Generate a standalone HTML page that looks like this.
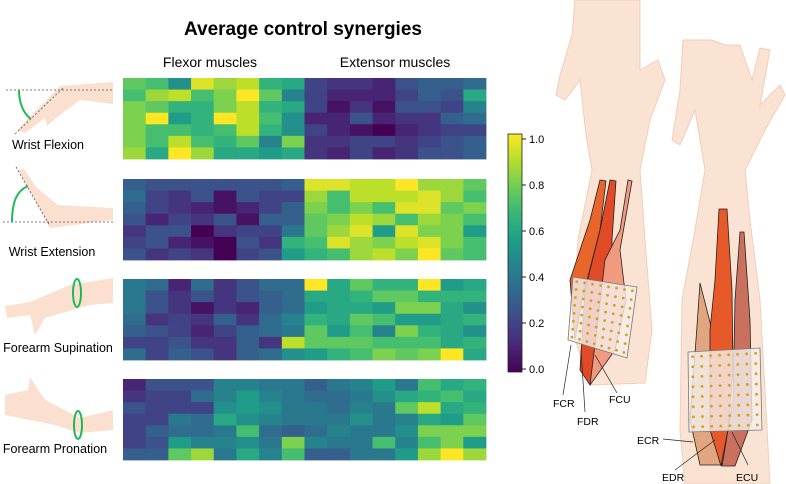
<!DOCTYPE html>
<html><head><meta charset="utf-8">
<style>
html,body{margin:0;padding:0;background:#fff;}
body{width:786px;height:484px;overflow:hidden;position:relative;font-family:"Liberation Sans",sans-serif;}
svg{position:absolute;left:0;top:0;}
text{font-family:"Liberation Sans",sans-serif;}
</style></head>
<body>
<svg id="fig" width="786" height="484" viewBox="0 0 786 484">
  <text x="303" y="35" text-anchor="middle" font-size="19" font-weight="bold">Average control synergies</text>
  <text x="210" y="67" text-anchor="middle" font-size="14">Flexor muscles</text>
  <text x="395" y="67" text-anchor="middle" font-size="14">Extensor muscles</text>

  <g>
    <path d="M113,82 L60,86 L17,130 L25,133 L45,118 L47,126 L56,118 L80,100 L113,104 Z" fill="#fbe0cf"/>
    <line x1="6" y1="90" x2="113" y2="90" stroke="#555" stroke-dasharray="2,2" stroke-width="0.8"/>
    <line x1="15" y1="134" x2="63" y2="88" stroke="#555" stroke-dasharray="2,2" stroke-width="0.8"/>
    <path d="M19,90 C19,104 24,114 31,119" fill="none" stroke="#1db954" stroke-width="2"/>
    <text x="48" y="149" text-anchor="middle" font-size="12.5">Wrist Flexion</text>
  </g>
  <g>
    <path d="M113,220 L50,228 L18,170 L24,169 L30,178 L36,187 L58,205 L113,208 Z" fill="#fbe0cf"/>
    <line x1="3" y1="222" x2="113" y2="222" stroke="#555" stroke-dasharray="2,2" stroke-width="0.8"/>
    <line x1="16" y1="167" x2="50" y2="226" stroke="#555" stroke-dasharray="2,2" stroke-width="0.8"/>
    <path d="M12,222 C12,200 18,190 28,186" fill="none" stroke="#1db954" stroke-width="2"/>
    <text x="52" y="256" text-anchor="middle" font-size="12.5">Wrist Extension</text>
  </g>
  <g>
    <path d="M113,278 L70,285 L30,302 L5,306 L7,318 L30,315 L35,335 L45,318 L90,305 L113,303 Z" fill="#fbe0cf"/>
    <ellipse cx="77" cy="293" rx="4" ry="14" fill="none" stroke="#1db954" stroke-width="2"/>
    <text x="58" y="352" text-anchor="middle" font-size="12.5">Forearm Supination</text>
  </g>
  <g>
    <path d="M113,410 L80,418 L45,400 L30,377 L28,390 L5,395 L5,415 L30,420 L55,425 L80,433 L113,430 Z" fill="#fbe0cf"/>
    <ellipse cx="78" cy="425" rx="4" ry="14" fill="none" stroke="#1db954" stroke-width="2"/>
    <text x="55" y="453" text-anchor="middle" font-size="12.5">Forearm Pronation</text>
  </g>

  <g id="maps"></g>
  <g id="cbar"></g>

  <g>
    <path d="M575,0 L572,35 L560,75 L556,95 L565,100 L580,80 L586,135 L592,170 L578,240 L572,330 L590,385 L645,383 L652,330 L645,240 L640,170 L650,120 L665,80 L658,60 L640,70 L640,0 Z" fill="#fbe3d4" stroke="#f3cdb8" stroke-width="1"/>
    <path d="M600,180 L606,181 L600,230 L582,300 L575,340 L570,280 L590,220 Z" fill="#e8652c" stroke="#222" stroke-width="0.8"/>
    <path d="M610,180 L616,181 L612,240 L612,300 L598,360 L590,385 L580,370 L585,290 L600,230 Z" fill="#e04a26" stroke="#222" stroke-width="0.8"/>
    <path d="M628,180 L632,181 L620,250 L626,300 L615,350 L590,385 L598,320 L605,260 L620,230 Z" fill="#f29a80" stroke="#222" stroke-width="0.8"/>
    <polygon points="573,277 637,287 627,358 568,340" fill="#f3eeea" fill-opacity="0.82" stroke="#777" stroke-width="0.8"/>
    <g id="dotsA"></g>
    <g stroke="#222" stroke-width="0.7">
      <line x1="571" y1="345" x2="563" y2="395"/><line x1="581" y1="350" x2="585" y2="412"/><line x1="595" y1="355" x2="617" y2="393"/>
    </g>
    <text x="553" y="407" font-size="10.5">FCR</text>
    <text x="577" y="425" font-size="10.5">FDR</text>
    <text x="609" y="403" font-size="10.5">FCU</text>
  </g>
  <g>
    <path d="M683,40 L680,90 L672,140 L680,145 L695,110 L700,140 L705,170 L695,230 L682,300 L680,430 L685,484 L770,484 L766,410 L760,300 L750,220 L745,170 L765,130 L785,95 L780,85 L760,105 L770,50 L760,48 L752,80 L740,45 L725,45 L712,40 Z" fill="#fbe3d4" stroke="#f3cdb8" stroke-width="1"/>
    <path d="M700,283 L712,330 L715,400 L722,465 L700,465 L690,420 L696,340 Z" fill="#e1a67f" stroke="#222" stroke-width="0.8"/>
    <path d="M719,209 L727,209 L732,290 L733,370 L728,430 L721,466 L710,430 L710,330 L715,280 Z" fill="#e8592a" stroke="#222" stroke-width="0.8"/>
    <path d="M740,232 L744,232 L750,320 L752,420 L735,466 L722,466 L733,400 L735,300 Z" fill="#c9705e" stroke="#222" stroke-width="0.8"/>
    <polygon points="688,352 760,348 762,430 689,432" fill="#f3eeea" fill-opacity="0.82" stroke="#777" stroke-width="0.8"/>
    <g id="dotsB"></g>
    <g stroke="#222" stroke-width="0.7">
      <line x1="663" y1="439" x2="693" y2="442"/><line x1="675" y1="470" x2="715" y2="440"/><line x1="732" y1="432" x2="748" y2="465"/>
    </g>
    <text x="637" y="444" font-size="10.5">ECR</text>
    <text x="662" y="481" font-size="10.5">EDR</text>
    <text x="736" y="481" font-size="10.5">ECU</text>
  </g>
</svg>
<script>
const movements = ["wrist-flexion","wrist-extension","forearm-supination","forearm-pronation"];
const flexionValues = [
[0.75,0.7,0.5,0.95,0.85,0.9,0.65,0.6,0.2,0.15,0.15,0.1,0.25,0.3,0.3,0.35],
[0.7,0.85,0.9,0.7,0.8,1.0,0.75,0.45,0.2,0.1,0.1,0.1,0.2,0.3,0.25,0.6],
[0.8,0.75,0.65,0.65,0.8,0.9,0.65,0.6,0.2,0.05,0.15,0.05,0.25,0.25,0.2,0.45],
[0.8,1.0,0.55,0.65,1.0,0.9,0.7,0.5,0.1,0.1,0.25,0.1,0.15,0.15,0.3,0.35],
[0.8,0.7,0.7,0.65,0.7,0.9,0.65,0.5,0.2,0.1,0.05,0.0,0.1,0.15,0.2,0.2],
[0.8,0.7,0.9,0.7,0.65,0.75,0.45,0.8,0.15,0.15,0.2,0.2,0.15,0.2,0.25,0.3],
[0.85,0.6,1.0,0.85,0.6,0.6,0.55,0.6,0.15,0.1,0.2,0.1,0.15,0.25,0.25,0.3]];
const extensionValues = [
[0.3,0.25,0.25,0.25,0.25,0.25,0.25,0.3,0.95,0.95,0.9,0.9,1.0,0.85,0.85,0.75],
[0.35,0.2,0.15,0.25,0.05,0.25,0.2,0.2,0.85,0.7,0.9,0.9,0.9,0.95,0.85,0.7],
[0.3,0.2,0.15,0.1,0.05,0.1,0.2,0.3,0.8,0.7,0.8,0.7,0.95,0.95,0.75,0.8],
[0.25,0.1,0.2,0.15,0.25,0.05,0.3,0.3,0.75,0.8,0.9,0.85,0.7,0.85,0.8,0.7],
[0.15,0.25,0.25,0.0,0.15,0.2,0.2,0.4,0.75,0.85,0.95,0.55,0.95,0.8,0.8,0.55],
[0.2,0.25,0.1,0.05,0.0,0.25,0.15,0.65,0.7,0.95,0.85,0.8,0.9,0.95,0.8,0.7],
[0.25,0.15,0.2,0.15,0.0,0.2,0.25,0.55,0.65,0.7,0.85,0.9,0.8,1.0,0.75,0.7]];
const supinationValues = [
[0.4,0.35,0.1,0.35,0.15,0.25,0.35,0.35,1.0,0.6,0.75,0.65,0.65,1.0,0.55,0.6],
[0.4,0.25,0.15,0.25,0.15,0.25,0.3,0.35,0.6,0.6,0.65,0.75,0.75,0.65,0.65,0.65],
[0.4,0.25,0.15,0.05,0.15,0.1,0.3,0.35,0.55,0.6,0.6,0.55,0.8,0.8,0.6,0.5],
[0.35,0.15,0.2,0.15,0.3,0.15,0.35,0.45,0.65,0.6,0.75,0.7,0.55,0.55,0.6,0.65],
[0.3,0.25,0.2,0.1,0.2,0.3,0.35,0.4,0.75,0.55,0.7,0.45,0.8,0.65,0.6,0.5],
[0.2,0.2,0.25,0.15,0.15,0.3,0.15,0.9,0.75,0.75,0.75,0.7,0.7,0.7,0.6,0.65],
[0.35,0.2,0.3,0.25,0.15,0.3,0.35,0.5,0.55,0.65,0.7,0.8,0.75,0.8,1.0,0.6]];
const pronationValues = [
[0.1,0.25,0.25,0.25,0.45,0.45,0.4,0.4,0.3,0.4,0.45,0.55,0.4,0.7,0.6,0.65],
[0.15,0.2,0.2,0.35,0.45,0.55,0.45,0.4,0.35,0.35,0.4,0.5,0.6,0.65,0.7,0.6],
[0.25,0.2,0.2,0.2,0.5,0.55,0.5,0.4,0.4,0.35,0.45,0.4,0.75,0.9,0.6,0.65],
[0.2,0.2,0.4,0.35,0.6,0.5,0.45,0.4,0.4,0.4,0.5,0.4,0.45,0.6,0.55,0.75],
[0.2,0.3,0.35,0.35,0.4,0.7,0.35,0.3,0.35,0.45,0.4,0.4,0.5,0.8,0.8,0.8],
[0.2,0.25,0.55,0.45,0.45,0.5,0.4,0.8,0.45,0.4,0.4,0.7,0.45,0.7,0.8,0.55],
[0.3,0.3,0.75,0.85,0.4,0.6,0.45,0.7,0.3,0.3,0.4,0.4,0.55,0.85,1.0,0.85]];
const colorbarTicks = [0.0,0.2,0.4,0.6,0.8,1.0];
const colorbarTickLabels = ["0.0","0.2","0.4","0.6","0.8","1.0"];

const NS="http://www.w3.org/2000/svg";
const VIR=[[68,1,84],[72,40,120],[62,74,137],[49,104,142],[38,130,142],[31,158,137],[53,183,121],[110,206,88],[181,222,43],[253,231,37]];
function viridis(v){v=Math.max(0,Math.min(1,v));const p=v*(VIR.length-1);const i=Math.min(Math.floor(p),VIR.length-2);const t=p-i;const a=VIR[i],b=VIR[i+1];return `rgb(${Math.round(a[0]+(b[0]-a[0])*t)},${Math.round(a[1]+(b[1]-a[1])*t)},${Math.round(a[2]+(b[2]-a[2])*t)})`;}
const mapLeft=123,mapRight=486,mapTops=[78,179,279,379],mapH=81;
function xCell(c,n){return mapLeft+(mapRight-mapLeft)*c/n;}
function yCell(top,r,n){return top+mapH*r/n;}
const all=[flexionValues,extensionValues,supinationValues,pronationValues];
const maps=document.getElementById('maps');
all.forEach((data,k)=>{
  const g=document.createElementNS(NS,'g');
  
  
  const rows=data.length,cols=data[0].length;
  data.forEach((row,r)=>row.forEach((v,c)=>{
    const rc=document.createElementNS(NS,'rect');
    const x0=xCell(c,cols),x1=xCell(c+1,cols),y0=yCell(mapTops[k],r,rows),y1=yCell(mapTops[k],r+1,rows);
    rc.setAttribute('x',x0);rc.setAttribute('y',y0);rc.setAttribute('width',x1-x0+0.4);rc.setAttribute('height',y1-y0+0.4);
    rc.setAttribute('fill',viridis(v));
    
    
    g.appendChild(rc);
  }));
  maps.appendChild(g);
});
const cbX=508,cbW=14,cbTop=134,cbBot=372;
function yBar(v){return cbBot-3-(cbBot-3-(cbTop+5))*v;}
const cb=document.getElementById('cbar');


const defs=document.createElementNS(NS,'defs');
const lg=document.createElementNS(NS,'linearGradient');
lg.setAttribute('id','vg');lg.setAttribute('x1','0');lg.setAttribute('y1','1');lg.setAttribute('x2','0');lg.setAttribute('y2','0');
for(let i=0;i<=20;i++){const s=document.createElementNS(NS,'stop');s.setAttribute('offset',i/20);s.setAttribute('stop-color',viridis(i/20));lg.appendChild(s);}
defs.appendChild(lg);cb.appendChild(defs);
const bar=document.createElementNS(NS,'rect');
bar.setAttribute('x',cbX);bar.setAttribute('y',cbTop);bar.setAttribute('width',cbW);bar.setAttribute('height',cbBot-cbTop);
bar.setAttribute('fill','url(#vg)');bar.setAttribute('stroke','#222');bar.setAttribute('stroke-width','0.8');


cb.appendChild(bar);
colorbarTicks.forEach((t,i)=>{
  const y=yBar(t);
  const ln=document.createElementNS(NS,'line');
  ln.setAttribute('x1',cbX+cbW);ln.setAttribute('x2',cbX+cbW+4);ln.setAttribute('y1',y);ln.setAttribute('y2',y);ln.setAttribute('stroke','#222');
  
  
  cb.appendChild(ln);
  const tx=document.createElementNS(NS,'text');
  tx.setAttribute('x',cbX+cbW+7);tx.setAttribute('y',y+4);tx.setAttribute('font-size','11');
  tx.textContent=colorbarTickLabels[i];
  
  
  cb.appendChild(tx);
});
function dots(gid,p){
  const g=document.getElementById(gid);
  const nx=8,ny=8;
  for(let i=0;i<nx;i++)for(let j=0;j<ny;j++){
    const u=(i+0.5)/nx,v=(j+0.5)/ny;
    const x=(1-u)*(1-v)*p[0][0]+u*(1-v)*p[1][0]+u*v*p[2][0]+(1-u)*v*p[3][0];
    const y=(1-u)*(1-v)*p[0][1]+u*(1-v)*p[1][1]+u*v*p[2][1]+(1-u)*v*p[3][1];
    const c=document.createElementNS(NS,'circle');
    c.setAttribute('cx',x);c.setAttribute('cy',y);c.setAttribute('r',1.4);c.setAttribute('fill','#d4a017');
    
    
    g.appendChild(c);
  }
}
dots('dotsA',[[573,277],[637,287],[627,358],[568,340]]);
dots('dotsB',[[688,352],[760,348],[762,430],[689,432]]);
</script>
</body></html>
